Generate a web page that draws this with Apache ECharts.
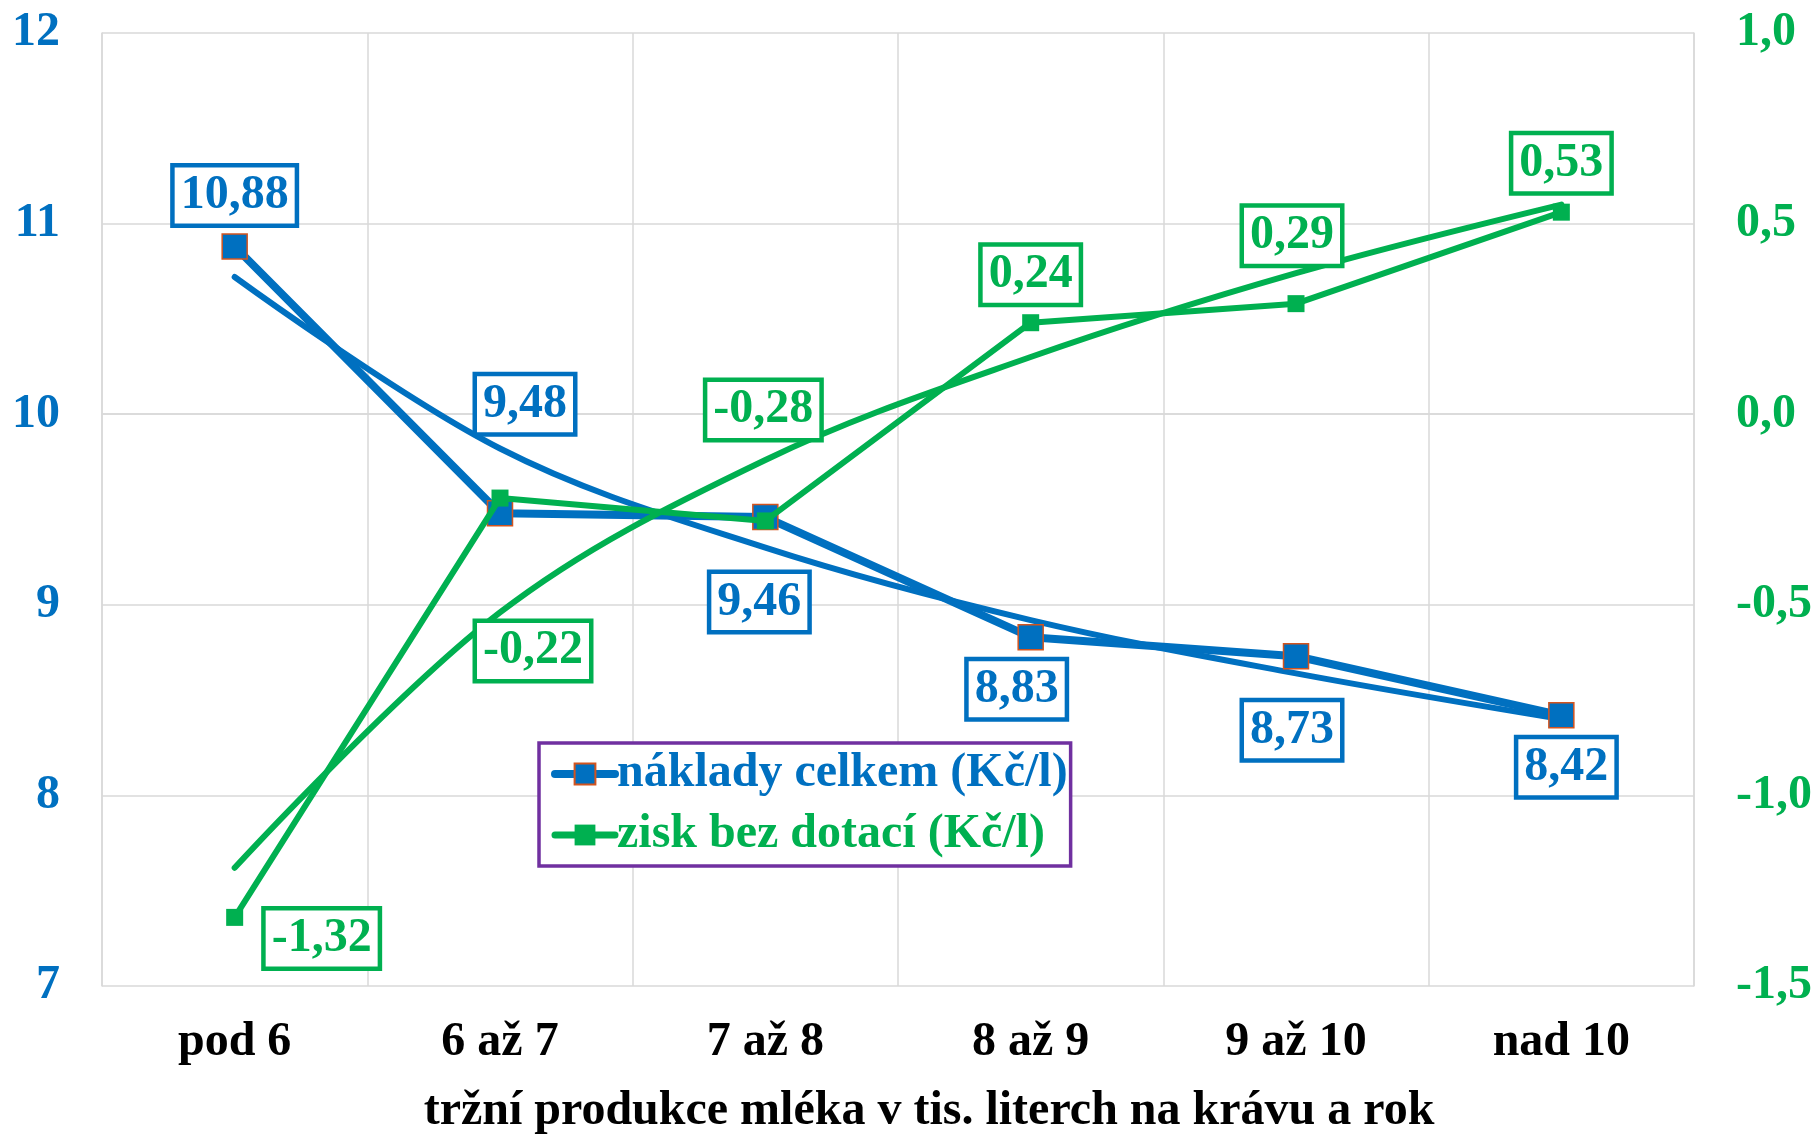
<!DOCTYPE html>
<html>
<head>
<meta charset="utf-8">
<title>náklady a zisk</title>
<script src="https://cdn.jsdelivr.net/npm/echarts@6/dist/echarts.min.js"></script>
<style>
  html, body {
    margin: 0;
    padding: 0;
    background: #fff;
  }
  #chart {
    width: 1815px;
    height: 1135px;
  }
</style>
</head>
<body>
<div id="chart"></div>
<script>
  // data
  var categories = ["pod 6", "6 až 7", "7 až 8", "8 až 9", "9 až 10", "nad 10"];
  var costValues = [10.88, 9.48, 9.46, 8.83, 8.73, 8.42];
  var profitValues = [-1.32, -0.22, -0.28, 0.24, 0.29, 0.53];
  // trend lines at each category
  var costTrend = [10.72, 9.82, 9.30, 8.92, 8.64, 8.40];
  var profitTrend = [-1.19, -0.52, -0.12, 0.15, 0.37, 0.55];
  var seriesNames = ["náklady celkem (Kč/l)", "zisk bez dotací (Kč/l)"];
  var axisTitle = "tržní produkce mléka v tis. literch na krávu a rok";

  // label placement (pixels from the point)
  var costLabelOffsets = [[0, -51], [25, -109], [-6, 85], [-14, 52], [-4, 74], [5, 52]];
  var profitLabelOffsets = [[87, 21], [33, 153], [-2, -111], [0, -48], [-4, -68], [0, -49]];

  var BLUE = "#0070C0";
  var GREEN = "#00B050";
  var FONT = "Liberation Serif";
  var FS = 48;

  function comma(v, digits) {
    return v.toFixed(digits).replace(".", ",");
  }

  function boxLabel(color) {
    return {
      show: true,
      position: "inside",
      color: color,
      fontFamily: FONT,
      fontWeight: "bold",
      fontSize: FS,
      lineHeight: 50,
      backgroundColor: "#fff",
      borderColor: color,
      borderWidth: 4.5,
      padding: [3, 6, 3, 6],
      formatter: function (p) { return comma(p.value, 2); }
    };
  }

  function withOffsets(values, offsets) {
    return values.map(function (v, i) {
      return { value: v, label: { offset: offsets[i] } };
    });
  }

  var myChart = echarts.init(document.getElementById("chart"));

  var option = {
    animation: false,
    backgroundColor: "#fff",
    title: {
      text: axisTitle,
      left: 929,
      top: 1088,
      textAlign: "center",
      padding: 0,
      textStyle: {
        color: "#000",
        fontFamily: FONT,
        fontWeight: "bold",
        fontSize: FS,
        lineHeight: 48
      }
    },
    grid: {
      left: 102,
      right: 120,
      top: 33,
      bottom: 149
    },
    legend: {
      orient: "vertical",
      left: 539,
      top: 743,
      padding: [6, 3, 6, 12],
      itemGap: 11,
      itemWidth: 60,
      itemHeight: 26,
      borderColor: "#7030A0",
      borderWidth: 3.5,
      backgroundColor: "#fff",
      data: [
        { name: seriesNames[0], textStyle: { color: BLUE }, lineStyle: { width: 8, cap: "round" } },
        { name: seriesNames[1], textStyle: { color: GREEN }, lineStyle: { width: 7, cap: "round" } }
      ],
      textStyle: {
        fontFamily: FONT,
        fontWeight: "bold",
        fontSize: FS,
        lineHeight: 50,
        padding: [0, 0, 0, -3]
      }
    },
    xAxis: {
      type: "category",
      data: categories,
      boundaryGap: true,
      axisLine: { show: true, lineStyle: { color: "#D9D9D9", width: 1.5 } },
      axisTick: { show: false },
      splitLine: { show: true, lineStyle: { color: "#D9D9D9", width: 1.5 } },
      axisLabel: {
        color: "#000",
        fontFamily: FONT,
        fontWeight: "bold",
        fontSize: FS,
        margin: 33
      }
    },
    yAxis: [
      {
        type: "value",
        min: 7,
        max: 12,
        interval: 1,
        axisLine: { show: true, lineStyle: { color: "#D9D9D9", width: 1.5 } },
        axisTick: { show: false },
        splitLine: { show: true, lineStyle: { color: "#D9D9D9", width: 1.5 } },
        axisLabel: {
          color: BLUE,
          fontFamily: FONT,
          fontWeight: "bold",
          fontSize: FS,
          margin: 42
        }
      },
      {
        type: "value",
        min: -1.5,
        max: 1,
        interval: 0.5,
        position: "right",
        axisLine: { show: true, lineStyle: { color: "#D9D9D9", width: 1.5 } },
        axisTick: { show: false },
        splitLine: { show: false },
        axisLabel: {
          color: GREEN,
          fontFamily: FONT,
          fontWeight: "bold",
          fontSize: FS,
          margin: 42,
          formatter: function (v) { return comma(v, 1); }
        }
      }
    ],
    series: [
      {
        name: seriesNames[0],
        type: "line",
        yAxisIndex: 0,
        data: withOffsets(costValues, costLabelOffsets),
        symbol: "rect",
        symbolSize: 25,
        lineStyle: { color: BLUE, width: 8 },
        itemStyle: { color: BLUE, borderColor: "#D2541F", borderWidth: 1.5 },
        label: boxLabel(BLUE),
        z: 3
      },
      {
        name: "trend1",
        type: "line",
        yAxisIndex: 0,
        data: costTrend,
        smooth: 0.35,
        symbol: "none",
        lineStyle: { color: BLUE, width: 6, cap: "round" },
        itemStyle: { color: BLUE },
        silent: true,
        z: 3
      },
      {
        name: seriesNames[1],
        type: "line",
        yAxisIndex: 1,
        data: withOffsets(profitValues, profitLabelOffsets),
        symbol: "rect",
        symbolSize: 17,
        lineStyle: { color: GREEN, width: 6 },
        itemStyle: { color: GREEN },
        label: boxLabel(GREEN),
        z: 4
      },
      {
        name: "trend2",
        type: "line",
        yAxisIndex: 1,
        data: profitTrend,
        smooth: 0.35,
        symbol: "none",
        lineStyle: { color: GREEN, width: 6, cap: "round" },
        itemStyle: { color: GREEN },
        silent: true,
        z: 4
      }
    ]
  };

  option && myChart.setOption(option);
</script>
</body>
</html>
